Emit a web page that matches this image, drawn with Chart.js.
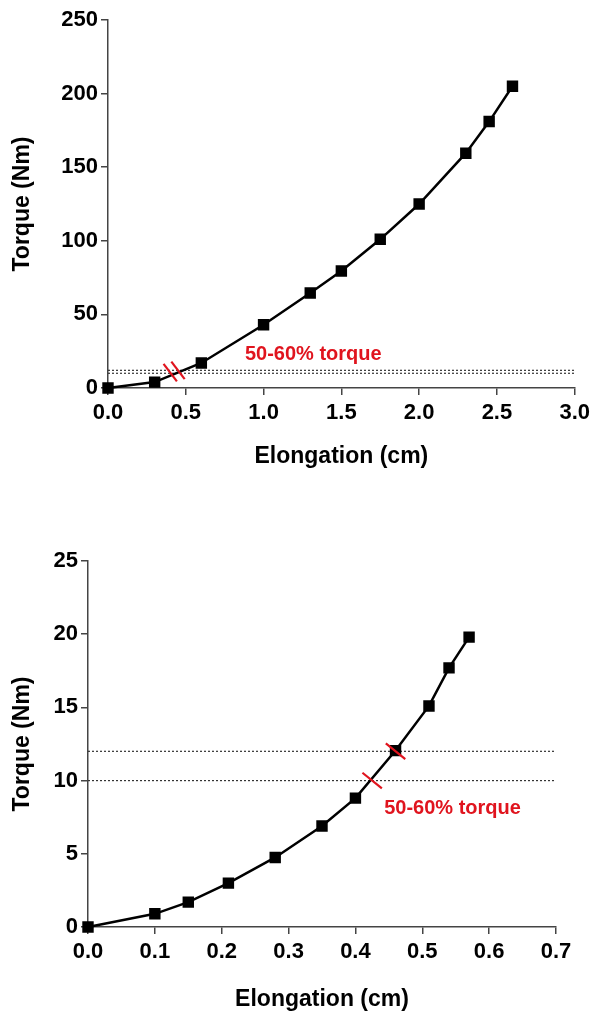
<!DOCTYPE html>
<html>
<head>
<meta charset="utf-8">
<script src="https://cdn.jsdelivr.net/npm/chart.js@4/dist/chart.umd.min.js"></script>
<style>
  html, body { margin: 0; padding: 0; background: #fff; }
  canvas { display: block; }
</style>
</head>
<body>
<canvas id="c1" width="595" height="480"></canvas>
<canvas id="c2" width="595" height="535"></canvas>
<script>
// ---- Top chart data ----
const topElong = [0, 0.3, 0.6, 1.0, 1.3, 1.5, 1.75, 2.0, 2.3, 2.45, 2.6];
const topTorque = [0, 4, 17, 43, 64.5, 79.5, 101, 125, 159.5, 181, 205];
const topRefLevels = [10, 12];
const topXTicks = [0, 0.5, 1.0, 1.5, 2.0, 2.5, 3.0];
const topYTicks = [0, 50, 100, 150, 200, 250];
const topMarks = [{x: 0.40, y: 10.5}, {x: 0.45, y: 12}];
const topLabel = {text: '50-60% torque', x: 0.88, y: 22.6};

// ---- Bottom chart data ----
const botElong = [0, 0.1, 0.15, 0.21, 0.28, 0.35, 0.40, 0.46, 0.51, 0.54, 0.57];
const botTorque = [0, 0.9, 1.7, 3.0, 4.75, 6.9, 8.8, 12.05, 15.1, 17.7, 19.8];
const botRefLevels = [10, 12];
const botXTicks = [0, 0.1, 0.2, 0.3, 0.4, 0.5, 0.6, 0.7];
const botYTicks = [0, 5, 10, 15, 20, 25];
const botMarks = [{x: 0.425, y: 10}, {x: 0.46, y: 12}];
const botLabel = {text: '50-60% torque', x: 0.443, y: 8.1};

const RED = '#e0141e';
const AXIS = '#444444';
const FONT = '"Liberation Sans", Arial, Helvetica, sans-serif';

const annotPlugin = {
  id: 'annot',
  afterDatasetsDraw(chart, args, opts) {
    const ctx = chart.ctx;
    const xs = chart.scales.x, ys = chart.scales.y;
    ctx.save();
    ctx.strokeStyle = opts.color;
    ctx.lineWidth = 2.2;
    const dx = Math.cos(opts.angle) * opts.len / 2;
    const dy = Math.sin(opts.angle) * opts.len / 2;
    opts.marks.forEach(m => {
      const cx = xs.getPixelForValue(m.x), cy = ys.getPixelForValue(m.y);
      ctx.beginPath();
      ctx.moveTo(cx - dx, cy - dy);
      ctx.lineTo(cx + dx, cy + dy);
      ctx.stroke();
    });
    ctx.fillStyle = opts.color;
    ctx.font = 'bold 20px ' + FONT;
    ctx.textAlign = 'left';
    ctx.textBaseline = 'middle';
    ctx.fillText(opts.label.text, xs.getPixelForValue(opts.label.x), ys.getPixelForValue(opts.label.y));
    ctx.restore();
  }
};

function makeChart(id, cfg) {
  const curve = cfg.xs.map((x, i) => ({x: x, y: cfg.ys[i]}));
  const refSets = cfg.levels.map(l => ({
    data: [{x: cfg.xMin, y: l}, {x: cfg.xMax, y: l}],
    borderColor: '#333333',
    borderWidth: 1.2,
    borderDash: [2, 2],
    pointRadius: 0,
    fill: false,
    tension: 0,
    order: 2
  }));
  return new Chart(document.getElementById(id), {
    type: 'line',
    data: {
      datasets: [
        ...refSets,
        {
          data: curve,
          borderColor: '#000',
          backgroundColor: '#000',
          borderWidth: 2.5,
          pointStyle: 'rect',
          pointRadius: 6.3,
          pointHoverRadius: 6.3,
          tension: 0,
          fill: false,
          clip: false,
          order: 1
        }
      ]
    },
    options: {
      responsive: false,
      animation: false,
      events: [],
      layout: { padding: cfg.pad },
      plugins: {
        legend: { display: false },
        tooltip: { enabled: false },
        annot: { color: RED, marks: cfg.marks, label: cfg.label, angle: cfg.angle, len: cfg.len }
      },
      scales: {
        x: {
          type: 'linear',
          min: cfg.xMin, max: cfg.xMax,
          afterBuildTicks: s => { s.ticks = cfg.xTicks.map(v => ({value: v})); },
          afterFit: s => { s.height = cfg.xH; },
          ticks: {
            color: '#000', padding: 5, maxRotation: 0,
            font: { family: FONT, size: 22, weight: 'bold' },
            callback: v => Number(v).toFixed(1)
          },
          grid: { display: true, drawOnChartArea: false, drawTicks: true, tickLength: 7, color: AXIS, lineWidth: 1.5 },
          border: { display: true, color: AXIS, width: 1.5 },
          title: {
            display: true, text: 'Elongation (cm)', color: '#000',
            font: { family: FONT, size: 23, weight: 'bold' },
            padding: { top: 0, bottom: cfg.xTitlePad }
          }
        },
        y: {
          type: 'linear',
          min: cfg.yMin, max: cfg.yMax,
          afterBuildTicks: s => { s.ticks = cfg.yTicks.map(v => ({value: v})); },
          afterFit: s => { s.width = cfg.yW; },
          ticks: {
            color: '#000', padding: 3,
            font: { family: FONT, size: 22, weight: 'bold' },
            callback: v => String(v)
          },
          grid: { display: true, drawOnChartArea: false, drawTicks: true, tickLength: 7, color: AXIS, lineWidth: 1.5 },
          border: { display: true, color: AXIS, width: 1.5 },
          title: {
            display: true, text: 'Torque (Nm)', color: '#000',
            font: { family: FONT, size: 23, weight: 'bold' },
            padding: { top: 9, bottom: 0 }
          }
        }
      }
    },
    plugins: [annotPlugin]
  });
}

makeChart('c1', {
  xs: topElong, ys: topTorque, levels: topRefLevels,
  xMin: 0, xMax: 3.0, yMin: 0, yMax: 250,
  xTicks: topXTicks, yTicks: topYTicks,
  marks: topMarks, label: topLabel, angle: 0.92, len: 22,
  pad: { top: 20, right: 18, bottom: 0, left: 0 },
  xH: 92, yW: 108, xTitlePad: 10
});

makeChart('c2', {
  xs: botElong, ys: botTorque, levels: botRefLevels,
  xMin: 0, xMax: 0.7, yMin: 0, yMax: 25,
  xTicks: botXTicks, yTicks: botYTicks,
  marks: botMarks, label: botLabel, angle: 0.68, len: 25,
  pad: { top: 81, right: 39, bottom: 0, left: 0 },
  xH: 88, yW: 88, xTitlePad: 2
});
</script>
</body>
</html>
